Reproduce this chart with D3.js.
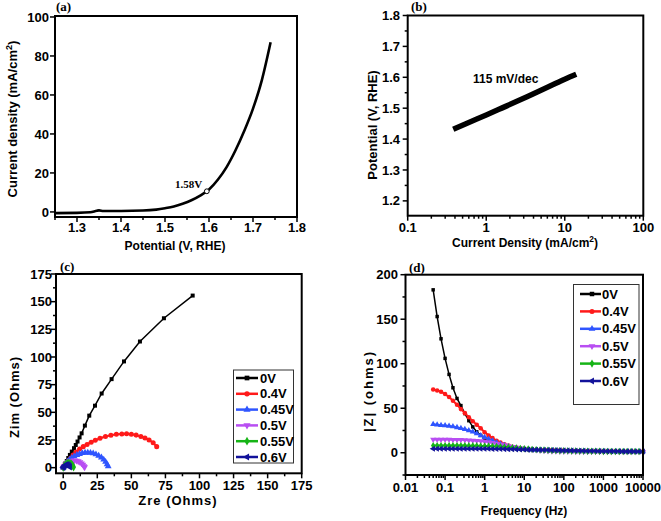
<!DOCTYPE html>
<html><head><meta charset="utf-8">
<script src="https://cdn.jsdelivr.net/npm/d3@7"></script>
<style>
body{margin:0;background:#fff;}
svg{display:block;}
text{font-family:"Liberation Sans",Arial,sans-serif;font-weight:bold;fill:#000;}
.serif{font-family:"Liberation Serif","Times New Roman",serif;}
</style>
</head><body>
<svg id="chart" width="661" height="521"></svg>
<script>
// ---------- DATA ----------
// (a) LSV polarization curve
const lsvPotential = [1.25,1.30,1.33,1.345,1.35,1.36,1.40,1.45,1.48,1.50,1.52,1.54,1.56,1.58,1.60,1.62,1.64,1.66,1.68,1.70,1.72,1.74];
const lsvCurrent   = [-0.6,-0.5,-0.2,0.6,0.8,0.5,0.5,0.7,1.2,1.9,2.8,4.2,6.0,8.4,11.5,16.5,23,31.5,41.5,53,67.5,87];
const onsetPoint = {v:1.595, j:10.6, label:"1.58V"};
const aXTicks = [1.3,1.4,1.5,1.6,1.7,1.8];
const aYTicks = [0,20,40,60,80,100];

// (b) Tafel plot
const tafelCurrent   = [0.38,0.6,1,1.6,2.5,4,6.3,10,14];
const tafelPotential = [1.432,1.454,1.478,1.501,1.523,1.547,1.570,1.594,1.610];
const tafelLabel = "115 mV/dec";
const bXTicks = [0.1,1,10,100];
const bYTicks = [1.2,1.3,1.4,1.5,1.6,1.7,1.8];

// legend / series
const seriesNames  = ["0V","0.4V","0.45V","0.5V","0.55V","0.6V"];
const seriesColors = ["#000000","#ff1a1a","#2f55ff","#b84ef2","#16b416","#12129a"];

// (c) Nyquist plots [Zre, Zim]
const nyq0V   = [[0,0],[0.5,1.5],[1.5,3.8],[2.6,6],[3.7,8.7],[4.9,11.5],[6.3,14.5],[7.9,17.6],[9.2,20.5],[10.5,23.6],[12,27.3],[13.5,31],[15.9,38],[19.1,47],[23.3,56],[28.2,67],[35.5,80],[44.6,96],[56.3,114],[73.9,135],[95,155.5]];
const nyq04V  = [[0,0],[1.2,2.3],[2.6,4.5],[4,6.5],[5.5,8.7],[7.3,11.5],[9.5,14.2],[12,16.8],[14.7,19],[17.5,21],[20.5,23],[23.5,24.7],[27,26.6],[31,28.1],[35,29.3],[39,30.1],[43,30.5],[46.5,30.6],[50,30.2],[53.5,29.4],[57,28.2],[60,26.8],[63,25],[66,22.5],[68.6,19]];
const nyq045V = [[0,0],[1,2],[2,3.8],[3.2,5.5],[4.6,7.2],[6.2,8.8],[8,10.2],[10,11.4],[12,12.4],[14,13.1],[16,13.5],[18,13.6],[20,13.4],[22,12.9],[24,12],[26,10.8],[28,9.2],[29.7,7.3],[31.1,5.2],[32.2,3],[33,1.2]];
const nyq05V  = [[0,0],[0.8,1.5],[1.7,2.8],[2.8,4],[4,5],[5.3,5.8],[6.7,6.3],[8.2,6.5],[9.7,6.3],[11,5.8],[12.3,5],[13.4,3.9],[14.4,2.7],[15.2,1.4],[15.7,0.3]];
const nyq055V = [[0,0],[0.6,1.3],[1.3,2.5],[2.1,3.4],[3,4],[4,4.3],[5,4.1],[5.9,3.5],[6.7,2.5],[7.3,1.3],[7.6,0.3]];
const nyq06V  = [[0,0],[0.5,1],[1,1.8],[1.7,2.5],[2.5,2.9],[3.3,2.8],[4,2.2],[4.6,1.3],[4.9,0.4]];
const nyquist = [nyq0V,nyq04V,nyq045V,nyq05V,nyq055V,nyq06V];
const cTicks = [0,25,50,75,100,125,150,175];

// (d) Bode |Z| vs frequency
const freqHz = [0.05,0.063,0.079,0.1,0.126,0.158,0.2,0.251,0.316,0.398,0.501,0.631,0.794,1,1.26,1.58,2,2.51,3.16,3.98,5.01,6.31,7.94,10,12.6,15.8,20,25.1,31.6,39.8,50.1,63.1,79.4,100,126,158,200,251,316,398,501,631,794,1000,1260,1580,2000,2510,3160,3980,5010,6310,7940,10000];
const bode0V   = [183,153,128,106,88,73,61,53,44,36,29,23.5,19.5,16.5,14,12,10,8.5,7.2,6.2,5.4,4.8,4.3,3.9,3.6,3.4,3.2,3.0,2.9,2.8,2.7,2.6,2.5,2.4,2.3,2.2,2.1,2.0,2.0,1.9,1.9,1.8,1.8,1.7,1.7,1.6,1.6,1.5,1.5,1.5,1.4,1.4,1.4,1.3];
const bode04V  = [71,70,68.5,66,62.5,58.5,54,49,44.5,40,35.5,31.5,27.5,23,19.5,16.5,13.5,11.5,9.5,8,6.8,5.8,5,4.4,3.9,3.6,3.3,3.1,2.9,2.8,2.7,2.6,2.5,2.4,2.3,2.2,2.1,2.0,2.0,1.9,1.9,1.8,1.8,1.7,1.7,1.6,1.6,1.5,1.5,1.5,1.4,1.4,1.4,1.3];
const bode045V = [32,31.5,31,30.5,30,29.5,28.5,27.5,26.5,25,23.5,21.5,19.5,17.5,15.5,13.5,11.5,9.8,8.3,7,6,5.2,4.6,4.1,3.7,3.4,3.2,3.0,2.8,2.7,2.6,2.5,2.4,2.3,2.2,2.1,2.0,1.9,1.9,1.8,1.8,1.7,1.7,1.6,1.6,1.5,1.5,1.5,1.4,1.4,1.4,1.3,1.3,1.3];
const bode05V  = [15,15,15,14.9,14.8,14.7,14.6,14.5,14.3,14.1,13.8,13.5,13.1,12.6,12,11.3,10.5,9.6,8.6,7.6,6.7,5.9,5.1,4.5,3.9,3.4,3.0,2.6,2.3,2.0,1.8,1.6,1.5,1.4,1.3,1.3,1.2,1.2,1.2,1.2,1.2,1.2,1.2,1.2,1.2,1.2,1.2,1.2,1.2,1.2,1.2,1.2,1.2,1.2];
const bode055V = [8,8,8,8,8,8,8,8,8,7.9,7.9,7.8,7.7,7.6,7.5,7.3,7.1,6.8,6.5,6.1,5.7,5.3,4.9,4.5,4.1,3.8,3.5,3.2,3.0,2.8,2.6,2.4,2.3,2.2,2.1,2.0,1.9,1.8,1.8,1.7,1.7,1.6,1.6,1.5,1.5,1.5,1.4,1.4,1.4,1.3,1.3,1.3,1.3,1.3];
const bode06V  = [4.5,4.5,4.5,4.5,4.5,4.5,4.5,4.5,4.5,4.5,4.5,4.5,4.5,4.4,4.4,4.3,4.3,4.2,4.1,4.0,3.9,3.8,3.7,3.6,3.5,3.4,3.3,3.2,3.1,3.0,2.9,2.8,2.7,2.6,2.5,2.4,2.3,2.2,2.1,2.0,1.9,1.9,1.8,1.8,1.7,1.7,1.6,1.6,1.5,1.5,1.5,1.4,1.4,1.4];
const bode = [bode0V,bode04V,bode045V,bode05V,bode055V,bode06V];
const dXTicks = [0.01,0.1,1,10,100,1000,10000];
const dYTicks = [0,50,100,150,200];

// ---------- DRAWING ----------
const svg = d3.select("#chart");
const symTypes = [d3.symbolSquare,d3.symbolCircle,d3.symbolTriangle,d3.symbolTriangle,d3.symbolDiamond,d3.symbolTriangle];
const symRot = [0,0,0,180,0,-90];

function frame(x, y){
  const [l,r] = x.range(), [b,t] = y.range();
  svg.append("rect").attr("x",l).attr("y",t).attr("width",r-l).attr("height",b-t)
    .attr("fill","none").attr("stroke","#000").attr("stroke-width",2);
}
function axes(x, y, o){
  const [l,r] = x.range(), [b,t] = y.range();
  const g = svg.append("g").attr("stroke","#000").attr("stroke-width",1.5);
  const inX = v => x(v) >= l-0.5 && x(v) <= r+0.5;
  const inY = v => y(v) <= b+0.5 && y(v) >= t-0.5;
  o.xMajor.filter(inX).forEach(v=>g.append("line").attr("x1",x(v)).attr("x2",x(v)).attr("y1",b).attr("y2",b+5));
  o.xMinor.filter(inX).forEach(v=>g.append("line").attr("x1",x(v)).attr("x2",x(v)).attr("y1",b).attr("y2",b+3));
  o.yMajor.filter(inY).forEach(v=>g.append("line").attr("y1",y(v)).attr("y2",y(v)).attr("x1",l-5).attr("x2",l));
  o.yMinor.filter(inY).forEach(v=>g.append("line").attr("y1",y(v)).attr("y2",y(v)).attr("x1",l-3).attr("x2",l));
  o.xMajor.forEach(v=>svg.append("text").attr("x",x(v)).attr("y",o.xLabY).attr("text-anchor","middle")
    .attr("font-size",13).text(o.xFmt(v)));
  o.yMajor.forEach(v=>svg.append("text").attr("x",o.yLabX).attr("y",y(v)+4.6).attr("text-anchor","end")
    .attr("font-size",13).text(o.yFmt(v)));
}
function marker(g, i, cx, cy, size, color){
  g.append("path").attr("d", d3.symbol().type(symTypes[i]).size(size)())
    .attr("transform",`translate(${cx},${cy}) rotate(${symRot[i]})`)
    .attr("fill",color).attr("stroke","none");
}
function panelLabel(txt, x, y){
  svg.append("text").attr("class","serif").attr("x",x).attr("y",y).attr("font-size",13).text(txt);
}
function ytitle(parts, x, y, size, ls){
  const t = svg.append("text").attr("transform",`translate(${x},${y}) rotate(-90)`)
    .attr("text-anchor","middle").attr("font-size",size).attr("letter-spacing",ls||0);
  parts.forEach(p=>{ const s=t.append("tspan").text(p[0]); if(p[1]) s.attr("font-size",size*0.7).attr("baseline-shift","super"); });
}
function xtitle(parts, x, y, size, ls){
  const t = svg.append("text").attr("x",x).attr("y",y).attr("text-anchor","middle").attr("font-size",size).attr("letter-spacing",ls||0);
  parts.forEach(p=>{ const s=t.append("tspan").text(p[0]); if(p[1]) s.attr("font-size",size*0.7).attr("baseline-shift","super"); });
}
const range = (a,b,s)=>{const r=[];for(let v=a;v<=b+1e-9;v+=s)r.push(+v.toFixed(4));return r;};
const logMinor = (lo,hi)=>{const r=[];for(let d=lo;d<hi;d*=10){for(let k=2;k<=9;k++)r.push(+(d*k).toPrecision(3));}return r;};

// ----- (a) -----
const xA = d3.scaleLinear().domain([1.25,1.8]).range([55,297]);
const yA = d3.scaleLinear().domain([-2.6,100.5]).range([217,16]);
axes(xA,yA,{xMajor:aXTicks,xMinor:range(1.25,1.75,0.1),yMajor:aYTicks,yMinor:[],
  xLabY:232,yLabX:49,xFmt:d3.format(".1f"),yFmt:d3.format("d")});
svg.append("path").datum(lsvPotential.map((v,i)=>[v,lsvCurrent[i]]))
  .attr("d",d3.line().x(d=>xA(d[0])).y(d=>yA(d[1])).curve(d3.curveMonotoneX))
  .attr("fill","none").attr("stroke","#000").attr("stroke-width",2.6);
svg.append("circle").attr("cx",xA(onsetPoint.v)).attr("cy",yA(onsetPoint.j)).attr("r",2.4)
  .attr("fill","#fff").attr("stroke","#000").attr("stroke-width",1);
svg.append("text").attr("class","serif").attr("x",175).attr("y",188).attr("font-size",11).text(onsetPoint.label);
frame(xA,yA);
panelLabel("(a)",56,11);
ytitle([["Current density (mA/cm"],["2",true],[")"]],17,119,13);
xtitle([["Potential (V, RHE)"]],175,250,12);

// ----- (b) -----
const xB = d3.scaleLog().domain([0.1,100]).range([407.7,643.3]);
const yB = d3.scaleLinear().domain([1.152,1.8]).range([215.7,15.5]);
axes(xB,yB,{xMajor:bXTicks,xMinor:logMinor(0.1,100),yMajor:bYTicks,yMinor:range(1.15,1.75,0.1),
  xLabY:231.5,yLabX:400,xFmt:d=>String(d),yFmt:d3.format(".1f")});
svg.append("path").datum(tafelCurrent.map((v,i)=>[v,tafelPotential[i]]))
  .attr("d",d3.line().x(d=>xB(d[0])).y(d=>yB(d[1])).curve(d3.curveMonotoneX))
  .attr("fill","none").attr("stroke","#000").attr("stroke-width",5.5);
svg.append("text").attr("x",473).attr("y",83).attr("font-size",12).text(tafelLabel);
frame(xB,yB);
panelLabel("(b)",411,11);
ytitle([["Potential (V, RHE)"]],377,125,13);
xtitle([["Current Density (mA/cm"],["2",true],[")"]],525,247,12);

// ----- (c) -----
const xC = d3.scaleLinear().domain([-5.3,175]).range([56,301.7]);
const yC = d3.scaleLinear().domain([-5.1,175]).range([473.3,274]);
axes(xC,yC,{xMajor:cTicks,xMinor:range(12.5,162.5,25),yMajor:cTicks,yMinor:range(12.5,162.5,25),
  xLabY:490,yLabX:52,xFmt:d3.format("d"),yFmt:d3.format("d")});
const lineC = d3.line().x(d=>xC(d[0])).y(d=>yC(d[1]));
nyquist.forEach((s,i)=>{
  const g = svg.append("g");
  g.append("path").datum(s).attr("d",lineC).attr("fill","none")
    .attr("stroke",seriesColors[i]).attr("stroke-width",i===0?1.5:2);
  s.forEach(d=>marker(g,i,xC(d[0]),yC(d[1]),i===0?16:20,seriesColors[i]));
});
frame(xC,yC);
// legend (c)
svg.append("rect").attr("x",233.5).attr("y",370).attr("width",60).attr("height",93)
  .attr("fill","#fff").attr("stroke","#333").attr("stroke-width",1);
seriesNames.forEach((n,i)=>{
  const yy = 378 + i*15.8;
  const g = svg.append("g");
  g.append("line").attr("x1",236).attr("x2",258).attr("y1",yy).attr("y2",yy)
    .attr("stroke",seriesColors[i]).attr("stroke-width",2.5);
  marker(g,i,247,yy,22,seriesColors[i]);
  svg.append("text").attr("x",260).attr("y",yy+4.6).attr("font-size",13).text(n);
});
panelLabel("(c)",60,271);
ytitle([["Zim (Ohms)"]],18.5,397,13,1);
xtitle([["Zre (Ohms)"]],178,505,13,1);

// ----- (d) -----
const xD = d3.scaleLog().domain([0.01,10000]).range([405.5,643]);
const yD = d3.scaleLinear().domain([-25,200]).range([475,274.7]);
axes(xD,yD,{xMajor:dXTicks,xMinor:logMinor(0.01,10000),yMajor:dYTicks,yMinor:[-25,25,75,125,175],
  xLabY:491.5,yLabX:398,xFmt:d=>String(d),yFmt:d3.format("d")});
const lineD = d3.line().x(d=>xD(d[0])).y(d=>yD(d[1]));
bode.forEach((s,i)=>{
  const pts = freqHz.map((f,k)=>[f,s[k]]);
  const g = svg.append("g");
  g.append("path").datum(pts).attr("d",lineD).attr("fill","none")
    .attr("stroke",seriesColors[i]).attr("stroke-width",i===0?1.5:2);
  pts.forEach(d=>marker(g,i,xD(d[0]),yD(d[1]),i===0?12:16,seriesColors[i]));
});
frame(xD,yD);
// legend (d)
svg.append("rect").attr("x",573.5).attr("y",284.5).attr("width",65.5).attr("height",120)
  .attr("fill","#fff").attr("stroke","#333").attr("stroke-width",1);
seriesNames.forEach((n,i)=>{
  const yy = 294 + i*17.4;
  const g = svg.append("g");
  g.append("line").attr("x1",580).attr("x2",601).attr("y1",yy).attr("y2",yy)
    .attr("stroke",seriesColors[i]).attr("stroke-width",2.5);
  marker(g,i,592,yy,20,seriesColors[i]);
  svg.append("text").attr("x",602).attr("y",yy+4.6).attr("font-size",13).text(n);
});
panelLabel("(d)",409,272);
ytitle([["|Z| (ohms)"]],373,391,13,2);
xtitle([["Frequency (Hz)"]],524,515,12);
</script>
</body></html>
